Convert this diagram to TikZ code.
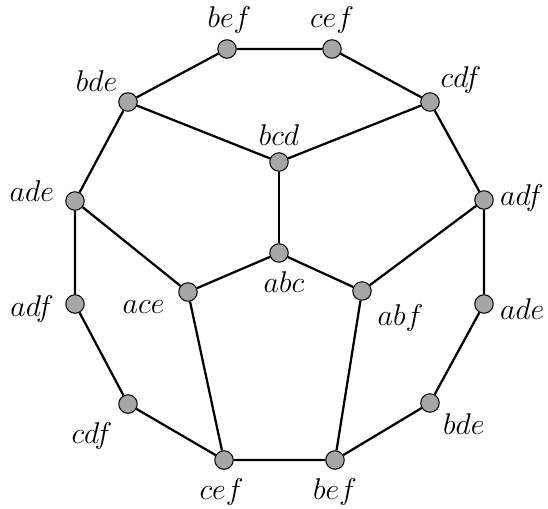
\documentclass[tikz,border=0pt]{standalone}
\begin{document}
\begin{tikzpicture}[x=0.4pt,y=-0.4pt,
  every node/.style={font=\fontsize{12.4}{15}\selectfont},
  vtx/.style={circle,draw,fill=gray!70,line width=0.4pt,inner sep=0pt,minimum size=7.4pt},
  edge/.style={line width=0.9pt}]
  \useasboundingbox (0,0) rectangle (548,508);
  % outer ring
  \node[vtx,label={[xshift=1pt,yshift=-1pt]above:$bef$}] (befT) at (227,49) {};
  \node[vtx,label={[yshift=-1pt]above:$cef$}] (cefT) at (332,49) {};
  \node[vtx,label={[xshift=2pt,yshift=-2pt]above left:$bde$}] (bdeT) at (128,102) {};
  \node[vtx,label={[xshift=-2pt,yshift=-3pt]above right:$cdf$}] (cdfT) at (430,102) {};
  \node[vtx,label={[xshift=-1pt,yshift=4pt]left:$ade$}] (adeL) at (75,201) {};
  \node[vtx,label={[xshift=-1pt,yshift=1pt]right:$adf$}] (adfR) at (484,200) {};
  \node[vtx,label={[xshift=-1pt,yshift=-2pt]left:$adf$}] (adfL) at (75,304) {};
  \node[vtx,label={[xshift=-1pt,yshift=-2pt]right:$ade$}] (adeR) at (484,304) {};
  \node[vtx,label={[xshift=0pt,yshift=-1pt]below left:$cdf$}] (cdfB) at (128,404) {};
  \node[vtx,label={[xshift=-1pt,yshift=2pt]below right:$bde$}] (bdeB) at (430,403) {};
  \node[vtx,label={[xshift=-1pt]below:$cef$}] (cefB) at (224,460) {};
  \node[vtx,label={below:$bef$}] (befB) at (335,460) {};
  % inner nodes
  \node[vtx,label={[yshift=-1pt]above:$bcd$}] (bcd) at (279,162) {};
  \node[vtx,label={[xshift=2pt]below:$abc$}] (abc) at (279,253) {};
  \node[vtx,label={[xshift=-2pt,yshift=-6pt]left:$ace$}] (ace) at (188,292) {};
  \node[vtx,label={[xshift=0pt,yshift=1pt]below right:$abf$}] (abf) at (362,291) {};
  \draw[edge] (befT) -- (cefT) -- (cdfT) -- (adfR) -- (adeR) -- (bdeB) -- (befB)
    -- (cefB) -- (cdfB) -- (adfL) -- (adeL) -- (bdeT) -- (befT);
  \draw[edge] (bdeT) -- (bcd) -- (cdfT);
  \draw[edge] (bcd) -- (abc);
  \draw[edge] (adeL) -- (ace) -- (abc) -- (abf) -- (adfR);
  \draw[edge] (ace) -- (cefB);
  \draw[edge] (abf) -- (befB);
\end{tikzpicture}
\end{document}
